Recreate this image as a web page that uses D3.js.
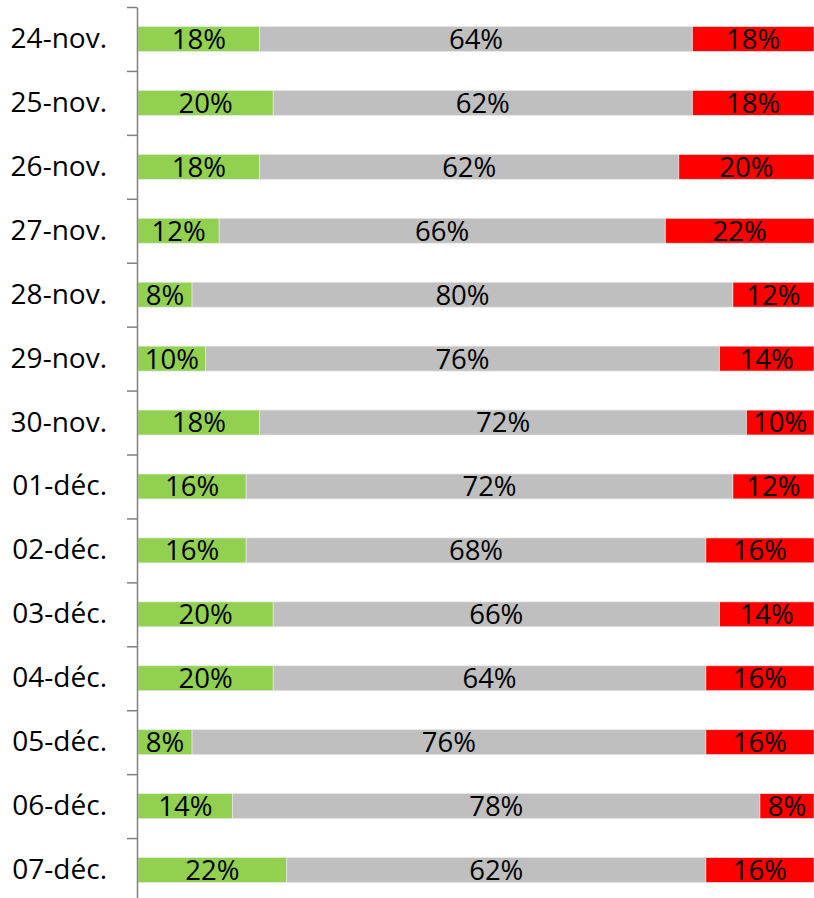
<!DOCTYPE html>
<html>
<head>
<meta charset="utf-8">
<style>
  body { margin: 0; background: #fff; }
  text { font-family: "Open Sans", sans-serif; }
</style>
</head>
<body>
<script src="https://cdn.jsdelivr.net/npm/d3@7"></script>
<script>

// Data
var days  = ["24-nov.", "25-nov.", "26-nov.", "27-nov.", "28-nov.", "29-nov.", "30-nov.",
             "01-déc.", "02-déc.", "03-déc.", "04-déc.", "05-déc.", "06-déc.", "07-déc."];
var green = [18, 20, 18, 12, 8, 10, 18, 16, 16, 20, 20, 8, 14, 22];
var grey  = [64, 62, 62, 66, 80, 76, 72, 72, 68, 66, 64, 76, 78, 62];
var red   = [18, 18, 20, 22, 12, 14, 10, 12, 16, 14, 16, 16, 8, 16];

var colors = ["#92D050", "#BFBFBF", "#FF0000"];

var width = 814, height = 898;

var rows = days.map((d, i) => ({ day: d, green: green[i], grey: grey[i], red: red[i] }));
var stack = d3.stack().keys(["green", "grey", "red"])(rows);

var svg = d3.select("body").append("svg")
    .attr("width", width)
    .attr("height", height);

var x = d3.scaleLinear()
    .domain([0, 100])
    .range([138, 814]);

var y = d3.scaleBand()
    .domain(days)
    .range([7, 902])
    .paddingInner(0.61)
    .paddingOuter(0.305);

// boundaries between the categories, for the tick marks
var yEdge = d3.scaleLinear()
    .domain([0, days.length])
    .range([7, 902]);

var layer = svg.selectAll(".layer")
    .data(stack)
  .enter().append("g")
    .attr("class", "layer")
    .attr("fill", (d, i) => colors[i]);

layer.selectAll("rect")
    .data(d => d)
  .enter().append("rect")
    .attr("x", d => x(d[0]))
    .attr("y", d => y(d.data.day))
    .attr("width", d => x(d[1]) - x(d[0]))
    .attr("height", y.bandwidth())
    .attr("stroke", "#e6e6e6")
    .attr("stroke-width", 0.7);

layer.selectAll("text")
    .data(d => d)
  .enter().append("text")
    .attr("x", d => (x(d[0]) + x(d[1])) / 2)
    .attr("y", d => y(d.data.day) + y.bandwidth() / 2)
    .attr("dy", "0.36em")
    .attr("text-anchor", "middle")
    .attr("fill", "#000")
    .style("font-size", "27.5px")
    .text(d => (d[1] - d[0]) + "%");

// Category axis line and ticks
var edges = svg.append("g")
    .attr("transform", "translate(137,0)")
    .call(d3.axisLeft(yEdge).tickValues(d3.range(days.length + 1)).tickSize(10).tickSizeOuter(0).tickFormat(""));
edges.selectAll("path, line").attr("stroke", "#808080").attr("stroke-width", 1.5);

var labels = svg.append("g")
    .attr("transform", "translate(137,0)")
    .call(d3.axisLeft(y).tickSize(0).tickPadding(30));
labels.select(".domain").remove();
labels.selectAll("text")
    .attr("fill", "#000")
    .style("font-size", "28px")
    .style("font-family", "'Open Sans', sans-serif");

</script>
</body>
</html>
